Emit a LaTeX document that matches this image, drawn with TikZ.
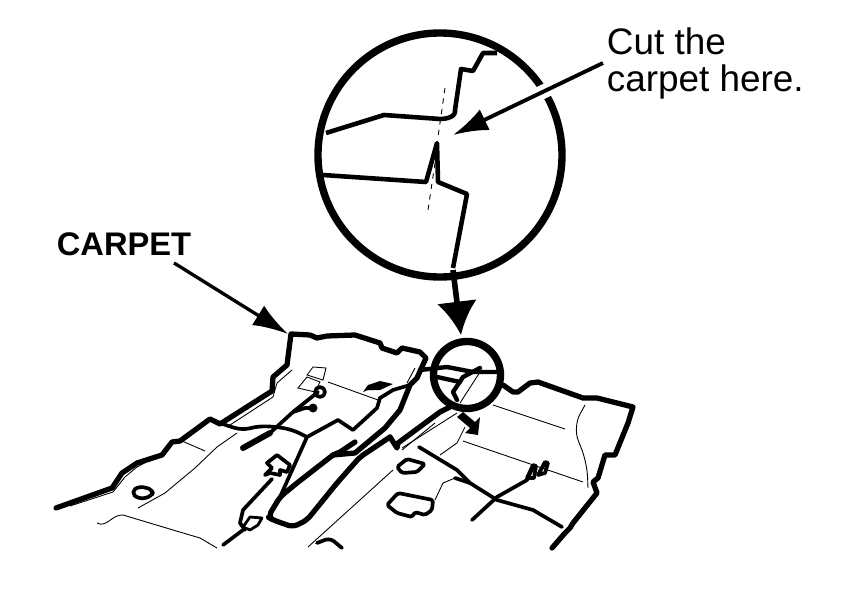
\documentclass[tikz,border=0pt]{standalone}
\usepackage{fontspec}
\setmainfont{Liberation Sans}
\usetikzlibrary{arrows.meta}

\tikzset{
  edge/.style={line width=3pt, line join=round, line cap=round},
  wire/.style={line width=2.1pt, line join=round, line cap=round},
  lens/.style={line width=4.2pt},
  cutline/.style={line width=2.6pt, line join=round},
  hair/.style={line width=0.5pt},
  pointer/.style={line width=2.2pt, -{Latex[length=20pt,width=13pt]}},
  bigpointer/.style={line width=3.2pt, -{Latex[length=19pt,width=23pt]}},
  labeltext/.style={inner sep=2pt, align=left, anchor=west}
}

\begin{document}
\begin{tikzpicture}[x=0.02cm, y=-0.02cm]

\fill [white] (0,0) rectangle (849,615);
\useasboundingbox (0,0) rectangle (849,615);

\coordinate (bigc)    at (440,155);
\coordinate (smallc)  at (467,375);
\coordinate (cuttip)  at (453,135);
\coordinate (edgetip) at (288,334);
\coordinate (lenstop) at (453,270);
\coordinate (lenstip) at (461,335);

\node [labeltext, font=\fontsize{21pt}{21pt}\selectfont] (cutlabel) at (603,63) {Cut the\\[0.1pt]carpet here.};
\node [labeltext, font=\fontsize{18.6pt}{20pt}\selectfont\bfseries] (carpetlabel) at (53,244) {CARPET};

% the large circle
\draw [lens] (bigc) circle (122);
\draw [white, line width=8pt] (cutlabel.west) -- (cuttip);

\draw [cutline] (326,133) -- (384,115) -- (440,119) to [out=0,in=-80] (455,110) -- (461,69)
    -- (473,71) -- (483,53) -- (497,53);
\draw [cutline] (323,175) -- (426,182) -- (437,143) -- (438,182) -- (467,194) -- (453,268);
\draw [hair, dashed] (445,88) -- (438,137);
\draw [hair, dashed] (435,163) -- (428,210);

\draw [pointer] (cutlabel.west) -- (cuttip);
\draw [bigpointer] (lenstop) -- (lenstip);
\draw [pointer, line width=1.9pt] ([xshift=-12pt,yshift=-2pt]carpetlabel.south east) -- (edgetip);

% carpet outline
\draw [edge] (56,508) -- (112,488) -- (122,473) -- (137,463) -- (162,455) -- (172,442) -- (180,441)
    -- (210,419) -- (220,424) -- (272,391) -- (273,377) -- (287,365) -- (291,334) -- (310,335)
    -- (317,338) -- (327,336) -- (355,335) -- (380,343) -- (382,348) -- (397,353) -- (402,348)
    -- (420,352) -- (426,358) -- (417,378) -- (410,385) -- (400,410) -- (385,428) -- (355,453)
    -- (333,455);
\draw [edge, rounded corners=3pt] (333,455) -- (297,483) -- (280,497) -- (268,517) -- (273,520) -- (293,527)
    -- (307,520) -- (337,483) -- (360,457) -- (390,437);
\draw [edge] (390,437) -- (397,448) -- (398,443) -- (440,412) -- (450,407);
\draw [edge] (355,442) -- (340,452) -- (333,455);
\draw [edge] (503,385) -- (513,392) -- (518,392) -- (530,383) -- (538,382) -- (583,398) -- (597,398)
    -- (633,407) -- (628,423) -- (615,455) -- (605,455) -- (598,478) -- (593,482) -- (597,493)
    -- (573,523) -- (570,528) -- (565,533) -- (552,548);
\draw [wire] (410,385) -- (393,390) -- (380,398) -- (377,408) -- (353,430) -- (338,420) -- (307,437)
    -- (280,497);
\draw [wire, rounded corners=4pt] (307,437) -- (293,430) -- (278,427) -- (260,426) -- (242,430) -- (225,425)
    -- (210,419);

% harness
\draw [edge, line width=3.4pt] (243,448) -- (270,433);
\draw [wire] (270,433) -- (293,412) -- (318,392);
\draw [wire] (293,412) -- (305,408) -- (313,408);
\draw [wire] (272,479) -- (243,510) -- (240,523) -- (245,530);
\draw [wire] (243,530) -- (223,545);
\draw [wire] (419,447) -- (457,470) -- (470,483) -- (497,500) -- (533,510) -- (562,527);
\draw [wire] (455,478) -- (470,483);
\draw [wire] (472,520) -- (497,497) -- (527,480) -- (533,467);
\draw [wire] (527,478) -- (533,465) -- (536,466) -- (534,478) -- cycle;
\draw [wire] (538,475) -- (545,462) -- (548,463) -- (545,473) -- cycle;
\draw [wire, rounded corners=3pt] (317,543) -- (330,538) -- (342,548);
\fill (313,408) circle (4.5);
\draw [wire] (320,392) circle (5);

% holes and clips
\draw [wire, rounded corners=3pt] (131,492) -- (139,486) -- (154,490) -- (151,497) -- (138,499) -- cycle;
\draw [wire, line width=1.6pt] (243,527) -- (250,517) -- (262,518) -- (258,525) -- (250,530) -- cycle;
\draw [wire] (267,463) -- (277,455) -- (290,465) -- (287,472) -- (280,470) -- (280,475)
    -- (270,473) -- (265,475) -- (272,468) -- cycle;
\draw [wire, rounded corners=1pt] (397,467) -- (407,459) -- (425,464) -- (417,472) -- (402,473) -- cycle;
\draw [wire, rounded corners=1pt] (387,505) -- (398,493) -- (433,500) -- (432,510) -- (425,515) -- (415,512)
    -- (412,517) -- (397,513) -- cycle;

% thin lines
\draw [hair] (70,506) -- (113,492) -- (125,477) -- (137,467) -- (150,460);
\draw [hair] (138,508) -- (165,493) -- (195,468) -- (217,447) -- (237,433);
\draw [hair] (182,441) -- (205,451);
\draw [hair] (97,523) to [out=-30,in=175] (123,515) -- (173,530) -- (200,538) -- (217,548);
\draw [hair] (230,425) -- (273,397) -- (277,383) -- (292,370);
\draw [hair] (307,375) -- (313,367) -- (326,368) -- (323,380) -- cycle;
\draw [hair] (298,388) -- (307,377) -- (320,382) -- (315,392) -- cycle;
\draw [hair] (328,382) -- (378,400);
\draw [hair] (308,547) -- (393,470);
\draw [hair] (415,368) -- (407,383);
\draw [hair] (402,450) -- (435,423);
\draw [hair] (402,448) -- (457,413);
\draw [hair] (480,372) -- (460,403);
\draw [hair] (493,405) -- (565,429);
\draw [hair, rounded corners=8pt] (585,405) -- (573,427) -- (587,463) -- (588,488);
\draw [hair] (463,441) -- (583,482);
\draw [hair] (465,427) -- (457,443) -- (440,455);
\draw [hair] (455,478) -- (443,483) -- (435,500);

% small arrows
\fill (363,392) -- (368,385) -- (380,381) -- (393,384) -- (380,390) -- (368,390) -- cycle;
\fill (457,417) -- (463,412) -- (475,422) -- (480,417) -- (478,435) -- (465,433) -- (470,428) -- cycle;

% the small circle
\draw [wire, line width=2.5pt] (420,370) -- (447,367) -- (473,372) -- (497,372);
\draw [wire, line width=2.5pt] (437,377) -- (460,382);
\draw [wire, line width=2.5pt] (480,368) -- (463,377) -- (453,392) -- (457,400);
\draw [lens] (smallc) circle (33.5);

\end{tikzpicture}
\end{document}
